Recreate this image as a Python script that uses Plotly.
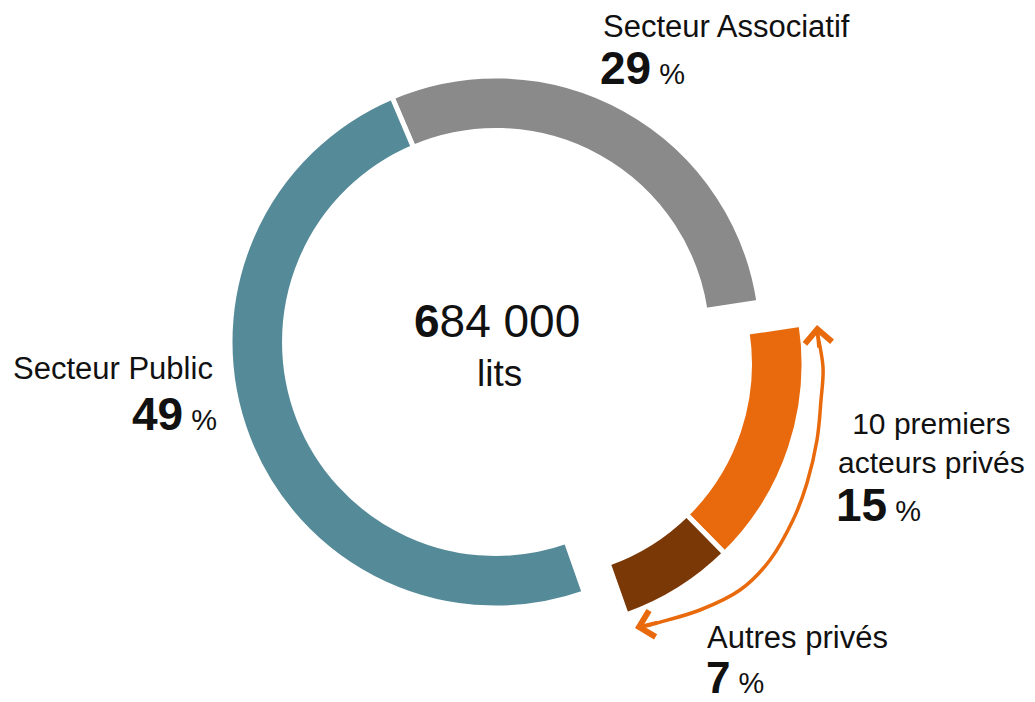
import plotly.graph_objects as go

# the page body has an 8px margin, so the figure is drawn 8px in
OFF = 8
W, H = 1035 - OFF, 702 - OFF

# data
secteurs = ["Secteur Associatif", "10 premiers<br>acteurs privés", "Autres privés", "Secteur Public"]
parts = [29, 15, 7, 49]
total_lits = 684000
couleurs = ["#8A8A8A", "#E96A0C", "#7B3807", "#558A98"]
prives = [False, True, True, False]

FONT = "Liberation Sans, Arial, sans-serif"
ORANGE = "#E96A0C"
TRANSP = "rgba(0,0,0,0)"


def px_x(x):
    return (x - OFF) / W


def px_y(y):
    return 1 - (y - OFF) / H


def pie_domain(cx, cy, r):
    return dict(x=[px_x(cx - r), px_x(cx + r)], y=[px_y(cy + r), px_y(cy - r)])


def pie_trace(show_prives, domain):
    cols = []
    lines = []
    for c, p in zip(couleurs, prives):
        visible = p == show_prives
        cols.append(c if visible else TRANSP)
        lines.append("white" if visible else TRANSP)
    return go.Pie(
        labels=secteurs,
        values=parts,
        sort=False,
        direction="clockwise",
        rotation=-23,
        hole=0.795,
        domain=domain,
        marker=dict(colors=cols, line=dict(color=lines, width=5)),
        textinfo="none",
        hoverinfo="skip",
        showlegend=False,
    )


fig = go.Figure()
fig.add_trace(pie_trace(False, pie_domain(496, 342, 266)))
# private sectors are pulled out together
fig.add_trace(pie_trace(True, pie_domain(538, 364, 266)))

annotations = []


def label(text, x, y, size=31, xanchor="left"):
    annotations.append(dict(
        text=text, x=px_x(x), y=px_y(y), xref="paper", yref="paper",
        xanchor=xanchor, yanchor="middle", showarrow=False,
        font=dict(family=FONT, size=size, color="#111111"),
    ))


def pct_text(v):
    return "<b>%d</b><span style='font-size:29px'> %%</span>" % v


# Secteur Associatif
label(secteurs[0], 601, 26)
label(pct_text(parts[0]), 598, 68, size=46)
# 10 premiers acteurs privés
label(secteurs[1], 836, 443, size=30)
label(pct_text(parts[1]), 834, 505, size=46)
# Autres privés
label(secteurs[2], 705, 637)
label(pct_text(parts[2]), 704, 677, size=44)
# Secteur Public
label(secteurs[3], 11, 368)
label(pct_text(parts[3]), 219, 414, size=46, xanchor="right")

# centre
total_txt = "{:,}".format(total_lits).replace(",", " ")
label("<b>" + total_txt[0] + "</b>" + total_txt[1:], 497, 321, size=46, xanchor="center")
label("lits", 499, 373, size=37, xanchor="center")

# curved double arrow along the private sectors
arc_pts = [(817, 331), (823, 367), (821, 400), (817, 440), (807, 483), (793, 520),
           (770, 560), (740, 590), (700, 610), (657, 623), (641, 627)]
pts = [arc_pts[0]] + arc_pts + [arc_pts[-1]]
path = "M %f,%f" % (px_x(pts[1][0]), px_y(pts[1][1]))
for i in range(1, len(pts) - 2):
    p0, p1, p2, p3 = pts[i - 1], pts[i], pts[i + 1], pts[i + 2]
    c1 = (p1[0] + (p2[0] - p0[0]) / 6, p1[1] + (p2[1] - p0[1]) / 6)
    c2 = (p2[0] - (p3[0] - p1[0]) / 6, p2[1] - (p3[1] - p1[1]) / 6)
    path += " C %f,%f %f,%f %f,%f" % (px_x(c1[0]), px_y(c1[1]), px_x(c2[0]), px_y(c2[1]),
                                      px_x(p2[0]), px_y(p2[1]))

shapes = [dict(type="path", path=path, xref="paper", yref="paper",
               line=dict(color=ORANGE, width=3.5))]

for tip, ax, ay in [((817, 325), 2, 24), ((635, 628), 24, -6)]:
    annotations.append(dict(
        x=px_x(tip[0]), y=px_y(tip[1]), xref="paper", yref="paper",
        ax=ax, ay=ay, text="", showarrow=True,
        arrowhead=4, arrowsize=1.5, arrowwidth=3.5, arrowcolor=ORANGE,
    ))

fig.update_layout(
    width=W,
    height=H,
    margin=dict(l=0, r=0, t=0, b=0),
    paper_bgcolor="white",
    plot_bgcolor="white",
    annotations=annotations,
    shapes=shapes,
    showlegend=False,
)

fig.write_html("out.html")
